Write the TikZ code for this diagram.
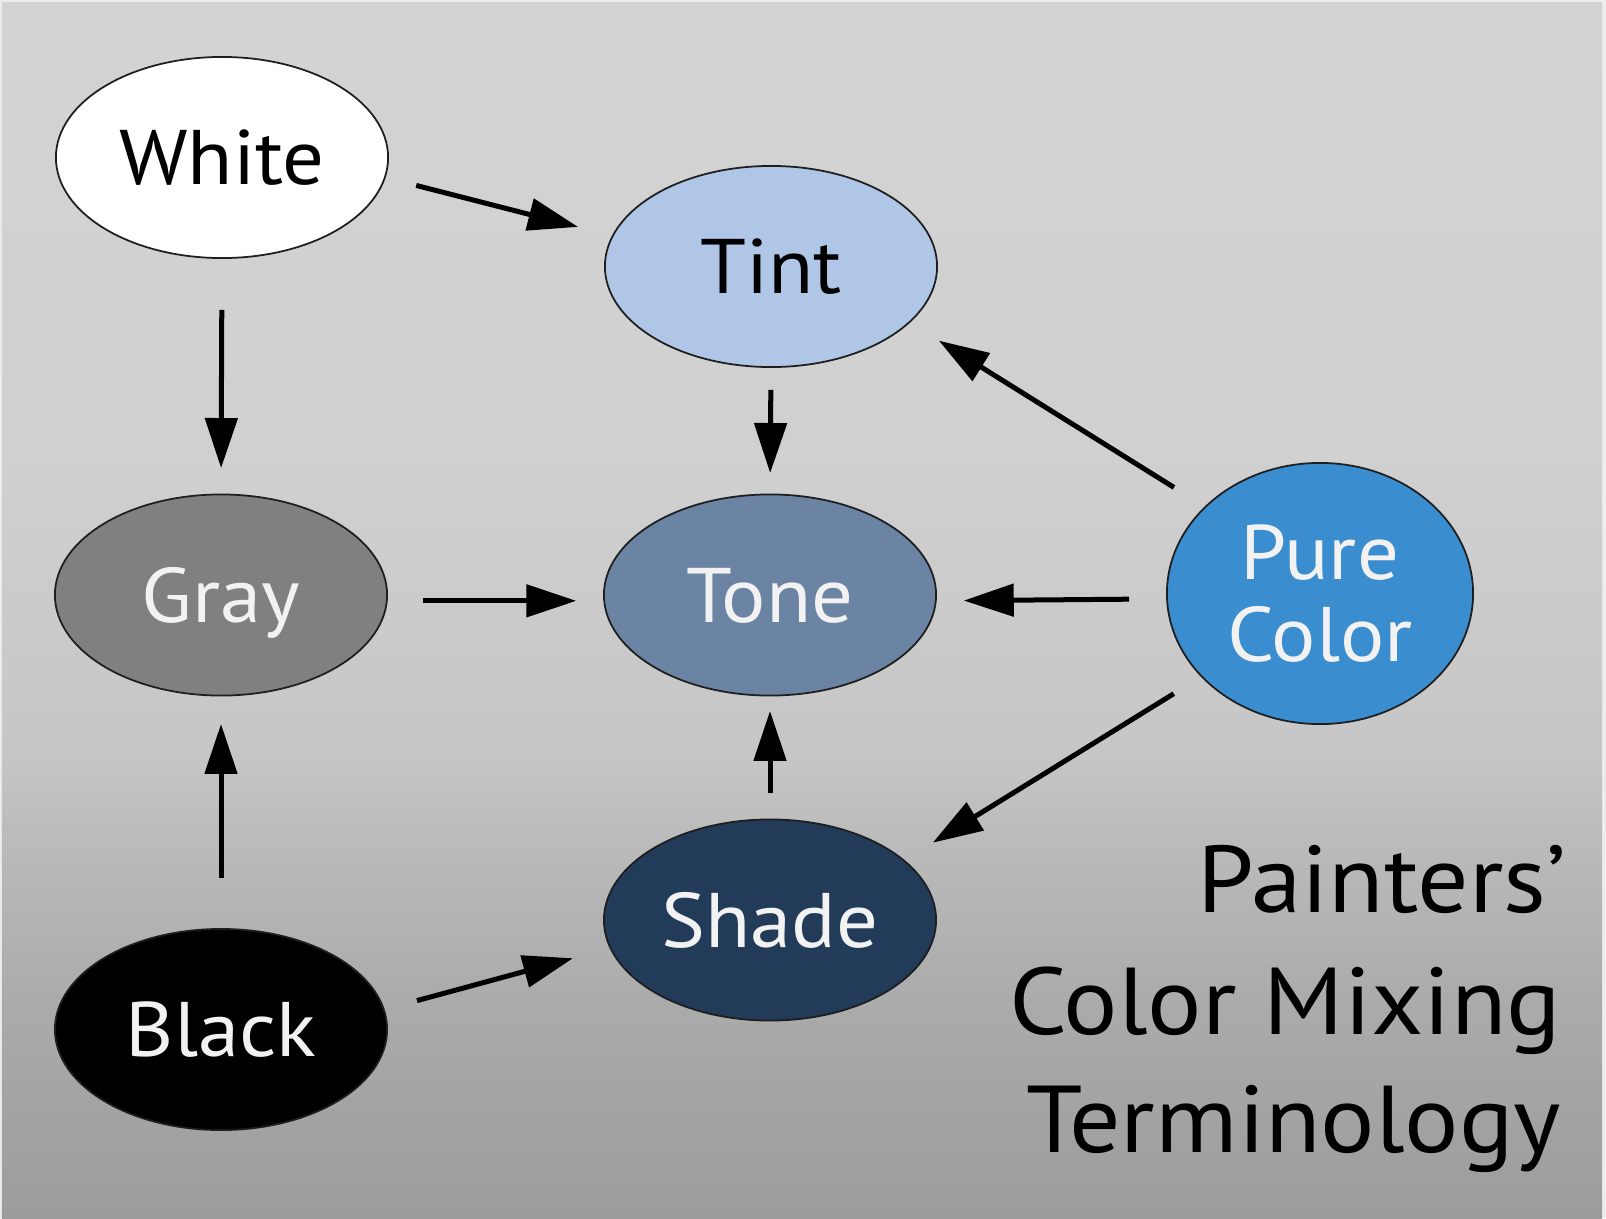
\documentclass[tikz,border=0pt]{standalone}
\usepackage{fontspec}
\setmainfont[FakeStretch=1.07]{PT Sans}
\usetikzlibrary{arrows.meta,shapes.geometric}
\definecolor{edgec}{HTML}{EDEDED}
\definecolor{bgA}{HTML}{9C9C9C}
\definecolor{bgB}{HTML}{ABABAB}
\definecolor{bgC}{HTML}{BCBCBC}
\definecolor{bgD}{HTML}{C6C6C6}
\definecolor{bgE}{HTML}{D0D0D0}
\definecolor{bgF}{HTML}{D3D3D3}
\definecolor{outl}{HTML}{1E1E1E}
\definecolor{tintc}{HTML}{B0C6E7}
\definecolor{tonec}{HTML}{6B84A4}
\definecolor{shadec}{HTML}{223B58}
\definecolor{grayc}{HTML}{808080}
\definecolor{purec}{HTML}{3A8DCE}
\definecolor{lite}{HTML}{F2F2F2}
\pgfdeclareverticalshading{bgshade}{100bp}{color(0bp)=(bgA); color(25bp)=(bgA); color(34bp)=(bgB); color(41bp)=(bgC); color(44bp)=(bgD); color(56.5bp)=(bgE); color(75bp)=(bgF); color(100bp)=(bgF)}
\tikzset{
  blobbase/.style={ellipse, draw=outl, line width=0.5pt, minimum width=3.32cm, minimum height=2.01cm, inner sep=0pt, font=\fontsize{22}{23.3}\selectfont},
  blob/.style={blobbase, text height=15.4pt, text depth=0pt},
  arr/.style={line width=0.05cm, -{Triangle[length=0.5cm,width=0.32cm]}},
  titletext/.style={anchor=base east, inner sep=0pt, font=\fontsize{27}{34}\selectfont}
}
\begin{document}
\begin{tikzpicture}[x=0.01cm,y=-0.01cm]
\useasboundingbox (0,0) rectangle (1606,1218);
\fill[edgec] (0,0) rectangle (1606,1218);
\shade[shading=bgshade] (2,3) rectangle (1602,1218);

\node[blob, fill=white] (white) at (222,157.5) {White};
\node[blob, fill=tintc] (tint) at (771,266.5) {Tint};
\node[blob, fill=grayc, text=lite] (gray) at (221,595) {Gray};
\node[blob, fill=tonec, text=lite] (tone) at (770,595) {Tone};
\node[blobbase, fill=purec, text=lite, minimum width=3.06cm, minimum height=2.61cm, align=center] (pure) at (1320,593.5) {Pure\\Color};
\node[blob, fill=shadec, text=lite] (shade) at (770,920) {Shade};
\node[blob, fill=black, text=lite] (black) at (221,1029.5) {Black};

\draw[arr, shorten <=0.315cm, shorten >=0.35cm] (white.-7) -- (tint.169);
\draw[arr, shorten <=0.51cm, shorten >=0.255cm] (white.south) -- (gray.north);
\draw[arr, shorten <=0.22cm, shorten >=0.205cm] (tint.south) -- (tone.north);
\draw[arr, shorten <=0.36cm, shorten >=0.34cm] (pure.143) -- (tint.-22);
\draw[arr, shorten <=0.35cm, shorten >=0.27cm] (gray.-2) -- (tone.182);
\draw[arr, shorten <=0.37cm, shorten >=0.27cm] (pure.182) -- (tone.-2);
\draw[arr, shorten <=0.32cm, shorten >=0.33cm] (pure.215) -- (shade.24);
\draw[arr, shorten <=0.255cm, shorten >=0.145cm] (shade.north) -- (tone.south);
\draw[arr, shorten <=0.50cm, shorten >=0.275cm] (black.north) -- (gray.south);
\draw[arr, shorten <=0.335cm, shorten >=0.38cm] (black.7) -- (shade.190);

\node[titletext] (t1) at (1567,912) {Painters’};
\node[titletext] (t2) at (1562,1034.5) {Color Mixing};
\node[titletext] (t3) at (1562,1152) {Terminology};
\end{tikzpicture}
\end{document}
